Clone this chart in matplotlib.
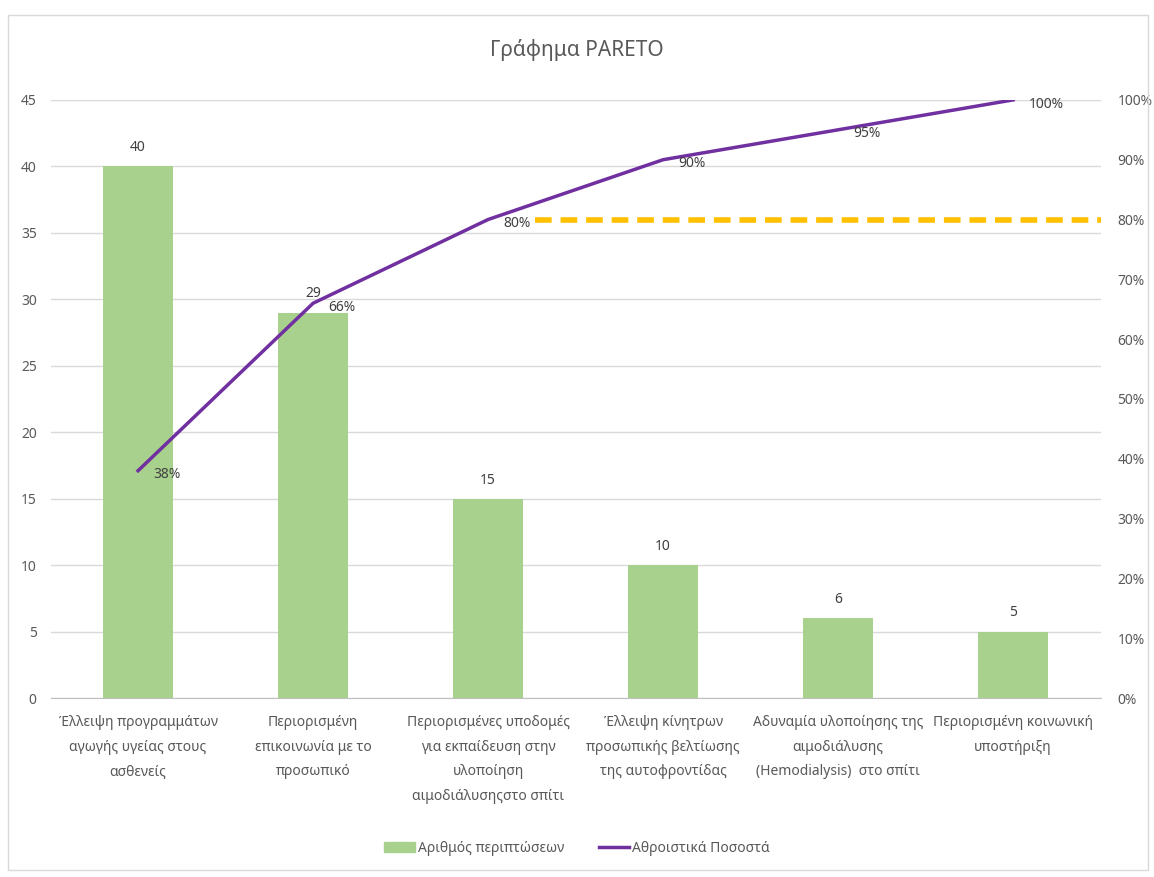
import matplotlib.pyplot as plt
import matplotlib.patches as mpatches
from matplotlib.lines import Line2D
import numpy as np

plt.rcParams['font.family'] = ['Noto Sans', 'DejaVu Sans']

categories = [
    'Έλλειψη προγραμμάτων\nαγωγής υγείας στους\nασθενείς',
    'Περιορισμένη\nεπικοινωνία με το\nπροσωπικό',
    'Περιορισμένες υποδομές\nγια εκπαίδευση στην\nυλοποίηση\nαιμοδιάλυσηςστο σπίτι',
    'Έλλειψη κίνητρων\nπροσωπικής βελτίωσης\nτης αυτοφροντίδας',
    'Αδυναμία υλοποίησης της\nαιμοδιάλυσης\n(Hemodialysis)  στο σπίτι',
    'Περιορισμένη κοινωνική\nυποστήριξη',
]
cases = [40, 29, 15, 10, 6, 5]
cum_pct = [38, 66, 80, 90, 95, 100]
threshold = 80

GRAY = '#595959'
fig = plt.figure(figsize=(11.54, 8.77), dpi=100)
fig.patches.append(mpatches.Rectangle((0.007, 0.008), 0.988, 0.975, transform=fig.transFigure,
                                      fill=False, edgecolor='#D9D9D9', lw=1))
ax = fig.add_axes([0.0438, 0.2041, 0.91, 0.682])
x = np.arange(len(cases))
ax.bar(x, cases, width=0.4, color='#A9D18E', zorder=2)
ax.set_xlim(-0.5, len(cases) - 0.5)
ax.set_ylim(0, 45)
ax.set_yticks(range(0, 46, 5))
ax.grid(axis='y', color='#D9D9D9', lw=1, zorder=0)
for s in ['top', 'left', 'right']:
    ax.spines[s].set_visible(False)
ax.spines['bottom'].set_color('#BFBFBF')
ax.tick_params(axis='y', length=0, colors=GRAY, labelsize=10, pad=10)
ax.tick_params(axis='x', length=0, colors=GRAY, labelsize=10, pad=12)
ax.set_xticks(x)
ax.set_xticklabels(categories, linespacing=1.9, va='top')
for xi, v in zip(x, cases):
    ax.annotate(str(v), (xi, v), xytext=(0, 8), textcoords='offset points',
                ha='center', va='bottom', fontsize=10, color='#404040')

ax2 = ax.twinx()
ax2.set_ylim(0, 100)
ax2.set_yticks(range(0, 101, 10))
ax2.set_yticklabels([f'{t}%' for t in range(0, 101, 10)])
ax2.tick_params(axis='y', length=0, colors=GRAY, labelsize=10, pad=12)
for s in ['top', 'left', 'right', 'bottom']:
    ax2.spines[s].set_visible(False)
ax2.plot(x, cum_pct, color='#7030A0', lw=2.5, zorder=3)
ax2.plot([2.27, len(cases) - 0.5], [threshold, threshold], color='#FFC000', lw=4,
         dashes=(3, 1.6), zorder=3)
for xi, p in zip(x, cum_pct):
    ax2.annotate(f'{p}%', (xi, p), xytext=(11, -3), textcoords='offset points',
                 ha='left', va='center', fontsize=10, color='#404040')

fig.text(0.5, 0.943, 'Γράφημα PARETO', ha='center', va='center', fontsize=15, color=GRAY)

handles = [mpatches.Patch(color='#A9D18E', label='Αριθμός περιπτώσεων'),
           Line2D([], [], color='#7030A0', lw=2.5, label='Αθροιστικά Ποσοστά')]
fig.legend(handles=handles, loc='center', bbox_to_anchor=(0.5, 0.033), ncol=2, frameon=False,
           fontsize=10, labelcolor=GRAY, handlelength=2.2, handletextpad=0.2, columnspacing=2.5)

fig.savefig('out.png', dpi=100)
